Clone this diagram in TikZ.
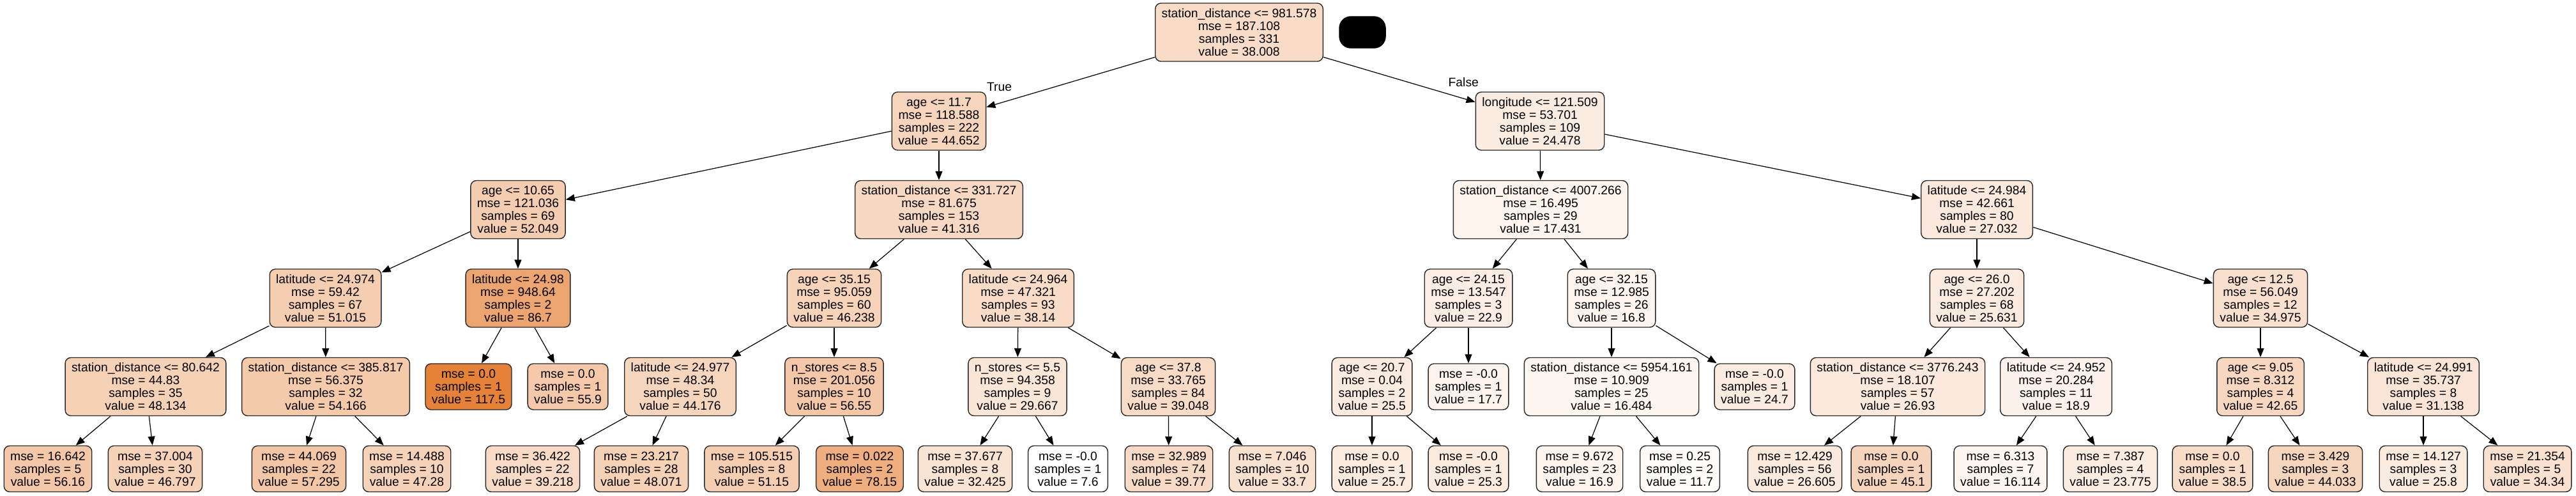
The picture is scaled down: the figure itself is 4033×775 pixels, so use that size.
\documentclass[tikz,border=0pt]{standalone}
\usepackage{fontspec}
\setmainfont{Liberation Sans}
\usetikzlibrary{arrows.meta}
\definecolor{treeorange}{RGB}{229,129,57}
\definecolor{linegray}{RGB}{40,40,40}

\begin{document}
\begin{tikzpicture}[x=0.01cm, y=-0.01cm,
    split/.style={draw=linegray, line width=0.4pt, rounded corners=0.09cm, align=center,
        font=\fontsize{5.49}{5.69}\selectfont, inner xsep=0.1cm, inner ysep=0pt,
        minimum height=0.91cm},
    leaf/.style={split, minimum height=0.72cm},
    edge/.style={-{Triangle[length=0.14cm,width=0.11cm]}, line width=0.35pt},
    branch/.style={font=\fontsize{5.49}{5.69}\selectfont, inner sep=0pt}]

    \useasboundingbox (0,0) rectangle (4033,775);

    % Split nodes
    \foreach \nm/\x/\y/\rl/\mse/\smp/\v in {
        0/1940/50.5/station\_distance <= 981.578/187.108/331/38.008,
        1/1470/189.5/age <= 11.7/118.588/222/44.652,
        28/2411/189.5/longitude <= 121.509/53.701/109/24.478,
        2/811/328/age <= 10.65/121.036/69/52.049,
        13/1470/328/station\_distance <= 331.727/81.675/153/41.316,
        29/2412/328/station\_distance <= 4007.266/16.495/29/17.431,
        40/3095/328/latitude <= 24.984/42.661/80/27.032,
        3/509.5/466.5/latitude <= 24.974/59.42/67/51.015,
        10/811/466.5/latitude <= 24.98/948.64/2/86.7,
        14/1306/466.5/age <= 35.15/95.059/60/46.238,
        21/1594/466.5/latitude <= 24.964/47.321/93/38.14,
        30/2299/466.5/age <= 24.15/13.547/3/22.9,
        35/2523/466.5/age <= 32.15/12.985/26/16.8,
        41/3095/466.5/age <= 26.0/27.202/68/25.631,
        48/3539/466.5/age <= 12.5/56.049/12/34.975,
        4/228/605/station\_distance <= 80.642/44.83/35/48.134,
        7/510/605/station\_distance <= 385.817/56.375/32/54.166,
        15/1065/605/latitude <= 24.977/48.34/50/44.176,
        18/1306/605/n\_stores <= 8.5/201.056/10/56.55,
        22/1593/605/n\_stores <= 5.5/94.358/9/29.667,
        25/1829/605/age <= 37.8/33.765/84/39.048,
        31/2148/605/age <= 20.7/0.04/2/25.5,
        36/2523/605/station\_distance <= 5954.161/10.909/25/16.484,
        42/2971/605/station\_distance <= 3776.243/18.107/57/26.93,
        45/3219/605/latitude <= 24.952/20.284/11/18.9,
        49/3539/605/age <= 9.05/8.312/4/42.65,
        52/3794/605/latitude <= 24.991/35.737/8/31.138} {
        \pgfmathsetmacro\shade{(\v-7.6)/1.099}
        \node[split, fill=treeorange!\shade!white] (n\nm) at (\x,\y)
            {\rl\\mse = \mse\\samples = \smp\\value = \v};
    }

    % Leaves
    \foreach \nm/\x/\y/\mse/\smp/\v in {
        11/733.5/605/0.0/1/117.5, 12/889/605/0.0/1/55.9,
        34/2299/605/-0.0/1/17.7, 39/2747/605/-0.0/1/24.7,
        5/75/733.5/16.642/5/56.16, 6/243/733.5/37.004/30/46.797,
        8/468/733.5/44.069/22/57.295, 9/637/733.5/14.488/10/47.28,
        16/834/733.5/36.422/22/39.218, 17/1004/733.5/23.217/28/48.071,
        19/1177/733.5/105.515/8/51.15, 20/1346/733.5/0.022/2/78.15,
        23/1511/733.5/37.677/8/32.425, 24/1672/733.5/-0.0/1/7.6,
        26/1830/733.5/32.989/74/39.77, 27/1992/733.5/7.046/10/33.7,
        32/2148/733.5/0.0/1/25.7, 33/2299/733.5/-0.0/1/25.3,
        37/2473/733.5/9.672/23/16.9, 38/2630/733.5/0.25/2/11.7,
        43/2810/733.5/12.429/56/26.605, 44/2961/733.5/0.0/1/45.1,
        46/3132/733.5/6.313/7/16.114, 47/3304/733.5/7.387/4/23.775,
        50/3464/733.5/0.0/1/38.5, 51/3625/733.5/3.429/3/44.033,
        53/3794/733.5/14.127/3/25.8, 54/3957/733.5/21.354/5/34.34} {
        \pgfmathsetmacro\shade{(\v-7.6)/1.099}
        \node[leaf, fill=treeorange!\shade!white] (n\nm) at (\x,\y)
            {mse = \mse\\samples = \smp\\value = \v};
    }

    % Masked box next to the root
    \node[fill=black, draw=black, rounded corners=0.18cm, minimum width=0.72cm,
        minimum height=0.49cm, inner sep=0pt] (mask) at (2133,50.5) {};

    % Edges
    \foreach \a/\b in {0/1, 0/28, 1/2, 1/13, 2/3, 2/10, 3/4, 3/7, 4/5, 4/6, 7/8, 7/9,
        10/11, 10/12, 13/14, 13/21, 14/15, 14/18, 15/16, 15/17, 18/19, 18/20,
        21/22, 21/25, 22/23, 22/24, 25/26, 25/27, 28/29, 28/40, 29/30, 29/35,
        30/31, 30/34, 31/32, 31/33, 35/36, 35/39, 36/37, 36/38, 40/41, 40/48,
        41/42, 41/45, 42/43, 42/44, 45/46, 45/47, 48/49, 48/52, 49/50, 49/51,
        52/53, 52/54}
        \draw[edge] (n\a) -- (n\b);

    \node[branch, anchor=south west] (truelab) at (n1.north east) {True};
    \node[branch, anchor=south east] (falselab) at ([xshift=0.06cm, yshift=0.07cm]n28.north west) {False};
\end{tikzpicture}
\end{document}
